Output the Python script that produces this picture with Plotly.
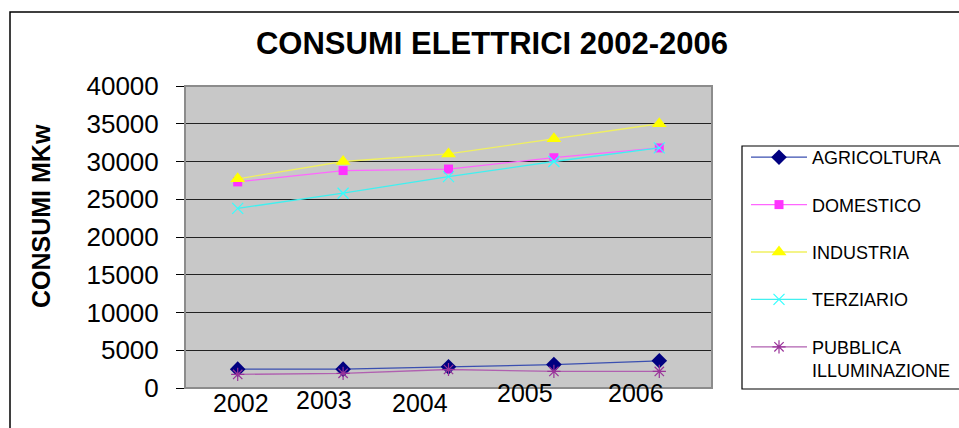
import plotly.graph_objects as go

# Electricity consumption by sector, 2002-2006 (MKw)
anni = ["2002", "2003", "2004", "2005", "2006"]
agricoltura = [2500, 2500, 2800, 3100, 3600]
domestico = [27300, 28800, 29000, 30500, 31800]
industria = [27700, 30000, 31000, 33000, 35000]
terziario = [23800, 25800, 28000, 30000, 31800]
pubblica_illuminazione = [1800, 1950, 2450, 2200, 2200]

serie = [
    ("AGRICOLTURA", agricoltura, "#000080", "#3a4fb0", "diamond", 12, 0),
    ("DOMESTICO", domestico, "#ff33ff", "#ff66ff", "square", 9, 0),
    ("INDUSTRIA", industria, "#ffff00", "#f0f060", "triangle-up", 13, 0),
    ("TERZIARIO", terziario, "#33ffff", "#40f0f0", "x-thin-open", 11, 1.2),
    ("PUBBLICA<br>ILLUMINAZIONE", pubblica_illuminazione, "#993399", "#b060b0", "asterisk-open", 11, 1.2),
]

FONT = "Liberation Sans, Arial, sans-serif"

fig = go.Figure()
for i, (nome, valori, col_m, col_l, simbolo, dim, lw) in enumerate(serie):
    fig.add_trace(go.Scatter(
        x=anni, y=valori, name=nome, mode="lines+markers",
        legendgroup=f"g{i}",
        line=dict(color=col_l, width=1.3),
        marker=dict(symbol=simbolo, size=dim, color=col_m,
                    line=dict(color=col_m, width=lw)),
    ))

# Plot-area geometry in pixels
W, H = 959, 428
L, R, T, B = 185, 712, 86, 388
pw, ph = R - L, B - T

def px(x):
    return (x - L) / pw

def py(y):
    return (B - y) / ph

shapes = [
    # outer chart frame
    dict(type="rect", xref="paper", yref="paper",
         x0=px(10), x1=px(W + 20), y0=py(12), y1=py(H + 20),
         line=dict(color="black", width=1.5), layer="below"),
    # plot area frame
    dict(type="rect", xref="paper", yref="paper",
         x0=0, x1=1, y0=0, y1=1,
         line=dict(color="#8c8c8c", width=2), layer="above"),
    # legend frame
    dict(type="rect", xref="paper", yref="paper",
         x0=px(742), x1=px(W + 20), y0=py(146), y1=py(389),
         line=dict(color="black", width=1.2), layer="above"),
]

# Year labels under the categories
offsets = [(3, -15), (-19, -12), (-29, -15), (-29, -5), (-23, -5)]
annotations = []
for idx, (anno, (dx, dy)) in enumerate(zip(anni, offsets)):
    annotations.append(dict(
        x=idx, xref="x", y=0, yref="paper", text=anno, showarrow=False,
        xanchor="center", yanchor="middle", xshift=dx, yshift=dy,
        font=dict(family=FONT, size=25, color="black"),
    ))
# Y-axis title
annotations.append(dict(
    x=px(41), y=py(216), xref="paper", yref="paper",
    text="<b>CONSUMI MKw</b>", textangle=-90, showarrow=False,
    xanchor="center", yanchor="middle",
    font=dict(family=FONT, size=25, color="black"),
))

fig.update_layout(
    width=W, height=H,
    margin=dict(l=L, r=W - R, t=T, b=H - B, pad=0, autoexpand=False),
    paper_bgcolor="white",
    plot_bgcolor="#c8c8c8",
    title=dict(text="<b>CONSUMI ELETTRICI 2002-2006</b>",
               x=492 / W, y=1 - 43 / H, xref="container",
               yref="container", xanchor="center", yanchor="middle",
               font=dict(family=FONT, size=31, color="black")),
    xaxis=dict(type="category", range=[-0.5, 4.5], showticklabels=False,
               showgrid=False, zeroline=False, ticks="", showline=False,
               fixedrange=True),
    yaxis=dict(range=[0, 40000], dtick=5000, tick0=0, tickformat="d",
               showgrid=True, gridcolor="#222222", gridwidth=1,
               zeroline=False, showline=True, linecolor="black", linewidth=1,
               ticks="outside", ticklen=8, tickcolor="black",
               ticklabelstandoff=12, automargin=False,
               tickfont=dict(family=FONT, size=26, color="black"),
               fixedrange=True),
    legend=dict(x=746 / W, y=1 - 139 / H, xref="container", yref="container",
                xanchor="left", yanchor="top", maxheight=420,
                borderwidth=0, bgcolor="rgba(0,0,0,0)",
                font=dict(family=FONT, size=18, color="black"),
                tracegroupgap=21, itemwidth=56, valign="top"),
    shapes=shapes,
    annotations=annotations,
    showlegend=True,
)

fig.write_html("out.html")
